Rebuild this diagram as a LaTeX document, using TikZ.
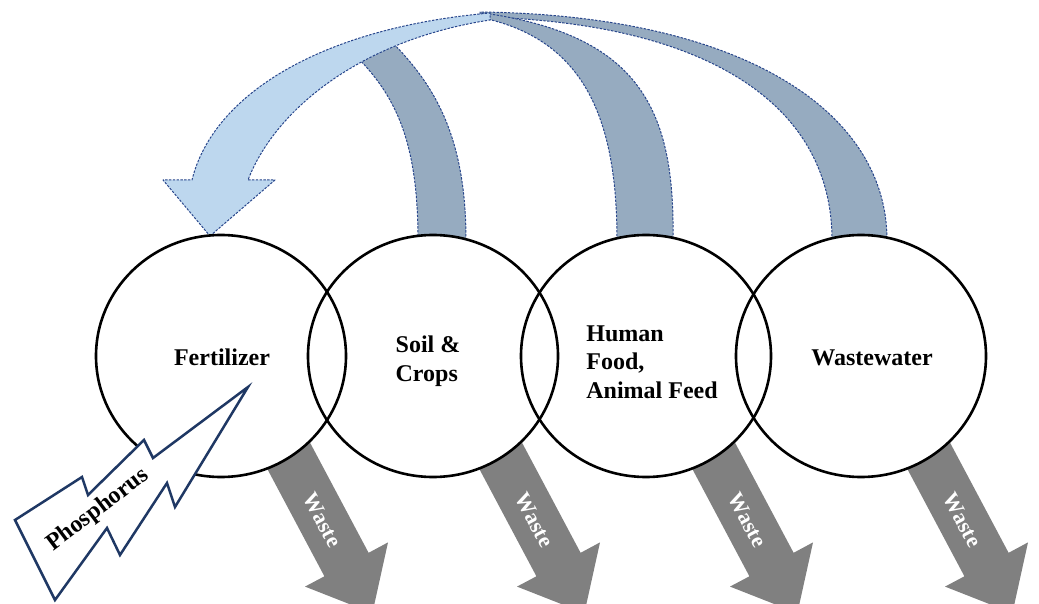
\documentclass[tikz,border=0pt]{standalone}
\usepackage{fontspec}
\setmainfont{Liberation Serif}
\usetikzlibrary{shapes.geometric}
\definecolor{bandline}{RGB}{40,70,140}
\definecolor{bandgray}{RGB}{150,171,192}
\definecolor{bandblue}{RGB}{189,215,238}
\definecolor{wastegray}{RGB}{128,128,128}
\definecolor{boltnavy}{RGB}{31,56,100}
\tikzset{
  band/.style={draw=bandline, line width=1pt, dash pattern=on 2.4pt off 1.4pt, line join=round},
  ring/.style={ellipse, draw=black, line width=2.6pt, minimum width=250pt, minimum height=242pt, inner sep=0pt},
  label/.style={font=\fontsize{24}{28.5}\selectfont\bfseries, text=black, align=left, inner sep=0pt},
  wastearrow/.style={fill=wastegray, draw=none},
  wastelabel/.style={font=\fontsize{22}{24}\selectfont\bfseries, text=white, rotate=-62, inner sep=0pt},
  bolt/.style={draw=boltnavy, fill=white, line width=2.5pt, line join=miter}
}
\begin{document}
\begin{tikzpicture}[x=1pt, y=-1pt]
\useasboundingbox (0,0) rectangle (1039,604);
\clip (0,0) rectangle (1039,604);

% waste arrows
\foreach \dx/\n in {0/1, 212/2, 425/3, 640/4}{
  \begin{scope}[xshift=\dx pt]
    \fill[wastearrow] (284.1,393.9) -- (368.6,552.8) -- (388.0,542.4) -- (372.4,613.1)
      -- (305.0,586.6) -- (324.4,576.3) -- (239.9,417.4) -- cycle;
  \end{scope}
}

% return bands (gray)
\path[band, fill=bandgray] (832,240) .. controls (832,100) and (700,22) .. (480,17)
  -- (480,12) .. controls (740,15) and (887,110) .. (887,240) -- cycle;
\path[band, fill=bandgray] (617,240) .. controls (617,120) and (585,40) .. (483,18)
  -- (483,13) .. controls (640,35) and (675,110) .. (673,240) -- cycle;
\path[band, fill=bandgray] (418,240) .. controls (418,140) and (395,95) .. (355,55)
  -- (388,38) .. controls (430,80) and (466,130) .. (466,240) -- cycle;
% fertilizer arrow (light blue)
\path[band, fill=bandblue] (210,236) -- (275,180) -- (248,180)
  .. controls (275,110) and (360,40) .. (490,20) -- (490,13)
  .. controls (320,28) and (213,95) .. (192,180) -- (163,180) -- cycle;

% white interiors
\foreach \cx in {221,433,646,861}{
  \fill[white] (\cx,356) ellipse [x radius=125, y radius=121];
}
% circles
\node[ring] (fert)  at (221,356) {};
\node[ring] (soil)  at (433,356) {};
\node[ring] (food)  at (646,356) {};
\node[ring] (water) at (861,356) {};

% waste labels
\foreach \dx/\n in {0/1, 212/2, 425/3, 640/4}{
  \node[wastelabel] (wl\n) at (322.5+\dx,520) {Waste};
}

% texts
\node[label] (tfert) at (222,357) {Fertilizer};
\node[label] (tsoil) at (428,361) {Soil \&\\Crops};
\node[label] (tfood) at (652,362) {Human\\Food,\\Animal Feed};
\node[label] (twater) at (872,358) {Wastewater};

% phosphorus bolt
\draw[bolt] (248,387) -- (153,458) -- (144,440) -- (88,495) -- (82,477) -- (15,520)
  -- (55,600) -- (107,528) -- (120,555) -- (167,483) -- (175,507) -- cycle;
\node[label, rotate=37, font=\fontsize{24}{28}\selectfont\bfseries] (tphos) at (98,510) {Phosphorus};
\end{tikzpicture}
\end{document}
